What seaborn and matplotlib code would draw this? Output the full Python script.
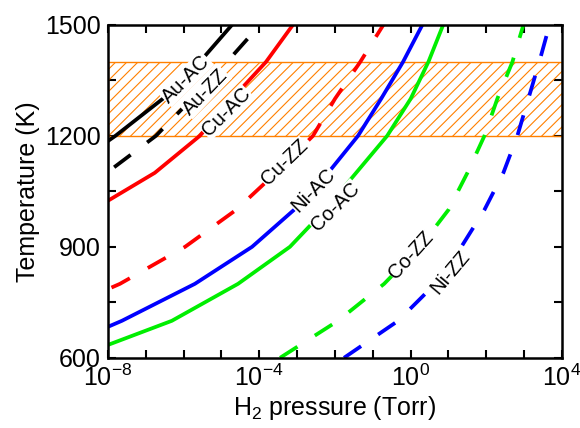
import numpy as np
import pandas as pd
import matplotlib.pyplot as plt
import seaborn as sns
from matplotlib.ticker import FixedLocator, NullFormatter, LogFormatterSciNotation

# Temperaturas (K) em que as curvas foram calculadas
temperaturas = [600, 700, 800, 900, 1000, 1100, 1200, 1300, 1400, 1500]

# log10 da pressão de H2 (Torr); None = sem ponto
au_ac = [None, None, None, None, None, -9.2, -7.80, -6.55, -5.57, -4.72]
au_zz = [None, None, None, None, -9.7, -8.03, -6.73, -5.78, -4.85, -3.98]
cu_ac = [None, None, None, None, -8.4, -6.76, -5.57, -4.72, -3.82, -3.11]
cu_zz = [None, -9.9, -7.68, -5.96, -4.61, -3.56, -2.58, -2.00, -1.33, -0.72]
ni_ac = [-9.9, -7.63, -5.70, -4.19, -3.08, -2.18, -1.39, -0.78, -0.20, 0.31]
co_ac = [-8.9, -6.31, -4.56, -3.19, -2.26, -1.44, -0.62, 0.00, 0.47, 0.86]
co_zz = [-3.45, -1.92, -0.70, 0.25, 1.00, 1.50, 1.95, 2.29, 2.69, 2.98]
ni_zz = [-1.76, -0.33, 0.65, 1.34, 1.95, 2.45, 2.82, 3.11, 3.40, 3.67]

curvas = {
    'Au-AC': au_ac, 'Au-ZZ': au_zz, 'Cu-AC': cu_ac, 'Cu-ZZ': cu_zz,
    'Ni-AC': ni_ac, 'Co-AC': co_ac, 'Co-ZZ': co_zz, 'Ni-ZZ': ni_zz,
}
cores = {
    'Au-AC': 'black', 'Au-ZZ': 'black', 'Cu-AC': '#FF0000', 'Cu-ZZ': '#FF0000',
    'Ni-AC': '#0000FF', 'Co-AC': '#00EE00', 'Co-ZZ': '#00EE00', 'Ni-ZZ': '#0000FF',
}

linhas = []
for nome, valores in curvas.items():
    for t, lp in zip(temperaturas, valores):
        if lp is not None:
            linhas.append({'curva': nome, 'borda': nome.split('-')[1],
                           'P': 10 ** lp, 'T': t})
df = pd.DataFrame(linhas)

sns.set_theme(style="ticks")
plt.rcParams['font.family'] = ['Liberation Sans', 'DejaVu Sans']
plt.rcParams['mathtext.default'] = 'regular'
plt.rcParams['hatch.linewidth'] = 0.8
for chave in ['text.color', 'axes.labelcolor', 'xtick.color', 'ytick.color']:
    plt.rcParams[chave] = 'black'

fig = plt.figure(figsize=(5.8, 4.28), dpi=100)
ax = fig.add_axes([0.186, 0.164, 0.783, 0.778])

# faixa de temperatura hachurada
ax.axhspan(1200, 1400, facecolor='none', edgecolor='#FF8000', hatch='///',
           lw=1, zorder=1)

sns.lineplot(data=df, x='P', y='T', hue='curva', style='borda',
             palette=cores, dashes={'AC': '', 'ZZ': (5.5, 5.5)},
             hue_order=list(curvas), style_order=['AC', 'ZZ'],
             sort=False, errorbar=None, lw=2.7, legend=False, ax=ax, zorder=2)

ax.set_xscale('log')
ax.set_xlim(1e-8, 1e4)
ax.set_ylim(600, 1500)

# rótulos das curvas
rotulos = [('Au-AC', -5.94, 1354, 45), ('Au-ZZ', -5.43, 1319, 46),
           ('Cu-AC', -4.88, 1265, 45), ('Cu-ZZ', -3.32, 1127, 44),
           ('Ni-AC', -2.58, 1054, 45), ('Co-AC', -1.99, 1008, 45),
           ('Co-ZZ', 0.02, 878, 48), ('Ni-ZZ', 1.05, 830, 50)]
for texto, lx, ty, rot in rotulos:
    ax.text(10 ** lx, ty, texto, rotation=rot, ha='center', va='center',
            rotation_mode='anchor', fontsize=14.5, color='black', zorder=3,
            bbox=dict(facecolor='white', edgecolor='none', pad=0.5))

ax.xaxis.set_major_locator(FixedLocator([1e-8, 1e-4, 1e0, 1e4]))
ax.xaxis.set_major_formatter(LogFormatterSciNotation())
ax.xaxis.set_minor_locator(FixedLocator([10.0 ** k for k in range(-8, 5)]))
ax.xaxis.set_minor_formatter(NullFormatter())
ax.set_yticks([600, 900, 1200, 1500])
ax.set_yticks([750, 1050, 1350], minor=True)

ax.tick_params(which='both', direction='in', top=True, right=True,
               length=6, width=1.5, labelsize=18, pad=5)
for s in ax.spines.values():
    s.set_linewidth(1.8)
    s.set_color('black')

ax.set_xlabel('H$_2$ pressure (Torr)', fontsize=18, labelpad=2)
ax.set_ylabel('Temperature (K)', fontsize=18, labelpad=4)

plt.savefig('out.png', dpi=100)
